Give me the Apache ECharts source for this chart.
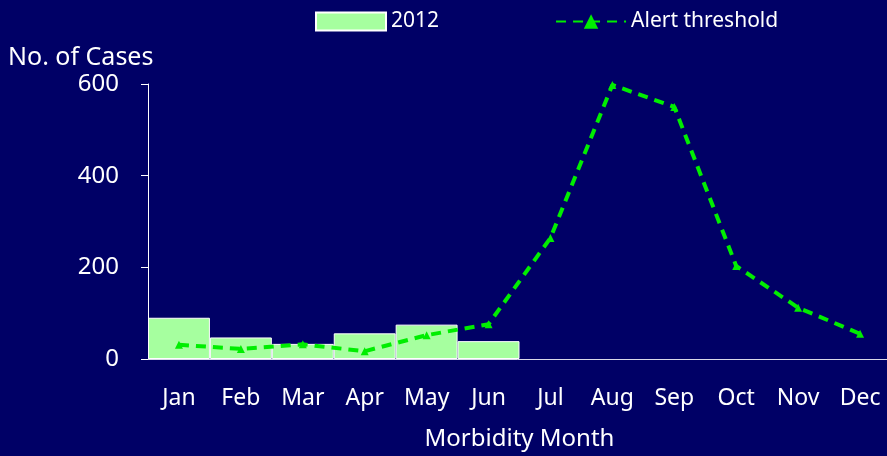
<!DOCTYPE html>
<html>
<head>
	<meta charset="utf-8"/>
	<title>Morbidity Month</title>
	<style type="text/css">
		html,body{ margin:0; padding:0; background:#000066; }
		#chart{ width:887px; height:456px; }
	</style>
</head>
<body>
	<div id="chart"></div>
	<script src="https://cdn.jsdelivr.net/npm/echarts@6/dist/echarts.min.js"></script>
	<script type="text/javascript">
		var months = ['Jan','Feb','Mar','Apr','May','Jun','Jul','Aug','Sep','Oct','Nov','Dec'];
		var cases2012 = [90, 47, 33, 56, 75, 39];
		var alertThreshold = [31, 22, 32, 17, 52, 76, 264, 598, 550, 203, 112, 55];
		var yTicks = [0, 200, 400, 600];

		var font = "'Noto Sans', sans-serif";
		var chart = echarts.init(document.getElementById('chart'));

		var option = {
			backgroundColor: '#000066',
			textStyle: { fontFamily: font, color: '#ffffff' },
			legend: {
				top: 6,
				left: 310,
				itemGap: 116,
				itemWidth: 70,
				itemHeight: 18,
				textStyle: { color: '#ffffff', fontSize: 21, fontFamily: font },
				data: [
					{ name: '2012', icon: 'rect' },
					{ name: 'Alert threshold' }
				]
			},
			grid: { left: 148, right: -4, top: 84, bottom: 97, containLabel: false, outerBoundsMode: 'none' },
			xAxis: {
				type: 'category',
				data: months,
				name: 'Morbidity Month',
				nameLocation: 'middle',
				nameGap: 68,
				nameTextStyle: { color: '#ffffff', fontSize: 24, fontFamily: font },
				axisLine: { lineStyle: { color: '#d8d8e8', width: 1 } },
				axisTick: { show: false },
				axisLabel: { color: '#ffffff', fontSize: 23, margin: 28, interval: 0, hideOverlap: false, fontFamily: font }
			},
			yAxis: {
				type: 'value',
				min: 0,
				max: yTicks[yTicks.length - 1],
				interval: 200,
				name: 'No. of Cases',
				nameLocation: 'end',
				nameGap: 14,
				nameTextStyle: { color: '#ffffff', fontSize: 25, fontFamily: font, align: 'left', padding: [0, 0, 0, -140] },
				axisLine: { show: true, lineStyle: { color: '#ffffff', width: 1 } },
				axisTick: { show: true, length: 7, lineStyle: { color: '#ffffff' } },
				splitLine: { show: false },
				axisLabel: { color: '#ffffff', fontSize: 24, margin: 29, fontFamily: font }
			},
			series: [
				{
					name: '2012',
					type: 'bar',
					data: cases2012,
					barWidth: '100%',
					barGap: '-100%',
					itemStyle: { color: '#a6ff9f', borderColor: '#ffffff', borderWidth: 1 }
				},
				{
					name: 'Alert threshold',
					type: 'line',
					data: alertThreshold,
					symbol: 'triangle',
					symbolSize: 8,
					itemStyle: { color: '#00ee00' },
					lineStyle: { color: '#00ee00', width: 4, type: [10, 7] },
					z: 5
				}
			]
		};

		chart.setOption(option);
	</script>
</body>
</html>
